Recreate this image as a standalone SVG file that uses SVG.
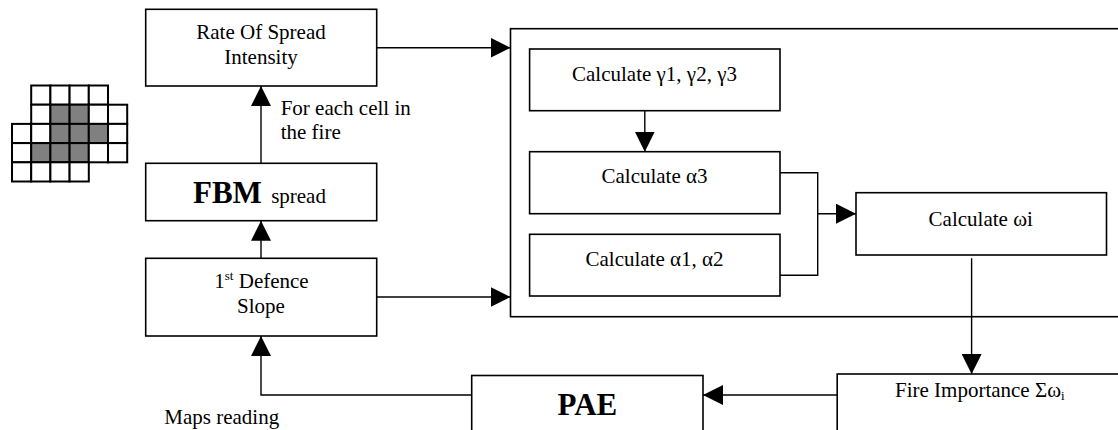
<svg xmlns="http://www.w3.org/2000/svg" width="1118" height="430" viewBox="0 0 1118 430">
<style>
.box{fill:#fff;stroke:#000;stroke-width:1.6}
.ln{fill:none;stroke:#000;stroke-width:1.4}
.t{font-family:"Liberation Serif","Times New Roman",serif;font-size:21px;fill:#000}
.c{text-anchor:middle}
.b{font-weight:bold}
.big{font-size:31px}
.cw{fill:#fff;stroke:#000;stroke-width:2}
.cg{fill:#808080;stroke:#000;stroke-width:2}
</style>
<defs>
<marker id="ah" markerUnits="userSpaceOnUse" markerWidth="20" markerHeight="20" refX="20" refY="10" orient="auto" viewBox="0 0 20 20">
<path d="M0,0 L20,10 L0,20 Z" fill="#000"/>
</marker>
</defs>
<rect width="1118" height="430" fill="#fff"/>

<g id="grid">
<rect class="cw" x="31.2" y="85.5" width="19.2" height="19.2"/>
<rect class="cw" x="50.4" y="85.5" width="19.2" height="19.2"/>
<rect class="cw" x="69.6" y="85.5" width="19.2" height="19.2"/>
<rect class="cw" x="88.8" y="85.5" width="19.2" height="19.2"/>
<rect class="cw" x="31.2" y="104.7" width="19.2" height="19.2"/>
<rect class="cg" x="50.4" y="104.7" width="19.2" height="19.2"/>
<rect class="cg" x="69.6" y="104.7" width="19.2" height="19.2"/>
<rect class="cw" x="88.8" y="104.7" width="19.2" height="19.2"/>
<rect class="cw" x="108" y="104.7" width="19.2" height="19.2"/>
<rect class="cw" x="12" y="123.9" width="19.2" height="19.2"/>
<rect class="cw" x="31.2" y="123.9" width="19.2" height="19.2"/>
<rect class="cg" x="50.4" y="123.9" width="19.2" height="19.2"/>
<rect class="cg" x="69.6" y="123.9" width="19.2" height="19.2"/>
<rect class="cg" x="88.8" y="123.9" width="19.2" height="19.2"/>
<rect class="cw" x="108" y="123.9" width="19.2" height="19.2"/>
<rect class="cw" x="12" y="143.1" width="19.2" height="19.2"/>
<rect class="cg" x="31.2" y="143.1" width="19.2" height="19.2"/>
<rect class="cg" x="50.4" y="143.1" width="19.2" height="19.2"/>
<rect class="cg" x="69.6" y="143.1" width="19.2" height="19.2"/>
<rect class="cw" x="88.8" y="143.1" width="19.2" height="19.2"/>
<rect class="cw" x="108" y="143.1" width="19.2" height="19.2"/>
<rect class="cw" x="12" y="162.3" width="19.2" height="19.2"/>
<rect class="cw" x="31.2" y="162.3" width="19.2" height="19.2"/>
<rect class="cw" x="50.4" y="162.3" width="19.2" height="19.2"/>
<rect class="cw" x="69.6" y="162.3" width="19.2" height="19.2"/>
</g>

<g id="container">
<rect class="box" x="510.5" y="28.7" width="700" height="288"/>
</g>

<g id="rate">
<rect class="box" x="145.7" y="9.3" width="231" height="76.7"/>
<text class="t c" x="261" y="39">Rate Of Spread</text>
<text class="t c" x="261" y="64">Intensity</text>
</g>

<g id="fbm">
<rect class="box" x="145.7" y="163.3" width="231" height="57.4"/>
<text class="t" x="193" y="203"><tspan class="b big">FBM</tspan><tspan dx="4"> spread</tspan></text>
</g>

<g id="defence">
<rect class="box" x="145.7" y="258.3" width="231" height="77.7"/>
<text class="t c" x="261.5" y="288.3">1<tspan font-size="13" dy="-8">st</tspan><tspan dy="8"> Defence</tspan></text>
<text class="t c" x="261" y="313.3">Slope</text>
</g>

<g id="gamma">
<rect class="box" x="529.6" y="49" width="250.4" height="61.7"/>
<text class="t c" x="654.5" y="81">Calculate γ1, γ2, γ3</text>
</g>

<g id="alpha3">
<rect class="box" x="529.6" y="151.7" width="250.4" height="62"/>
<text class="t c" x="654.5" y="183.3">Calculate α3</text>
</g>

<g id="alpha12">
<rect class="box" x="529.6" y="234.3" width="250.4" height="61.7"/>
<text class="t c" x="654.5" y="265.7">Calculate α1, α2</text>
</g>

<g id="omega">
<rect class="box" x="856" y="192.7" width="250.5" height="62.3"/>
<text class="t c" x="980.7" y="226">Calculate ωi</text>
</g>

<g id="fire">
<rect class="box" x="837.2" y="374" width="320" height="100"/>
<text class="t" x="895" y="397">Fire Importance Σω<tspan font-size="13" dy="3">i</tspan></text>
</g>

<g id="pae">
<rect class="box" x="471.7" y="375.5" width="231.3" height="100"/>
<text class="t c b big" x="587.4" y="415">PAE</text>
</g>

<g id="labels">
<text class="t" x="280.7" y="115">For each cell in</text>
<text class="t" x="280.7" y="139.3">the fire</text>
<text class="t" x="164.3" y="424">Maps reading</text>
</g>

<g id="connectors">
<line class="ln" x1="376.7" y1="47.7" x2="510.5" y2="47.7" marker-end="url(#ah)"/>
<line class="ln" x1="376.7" y1="297" x2="510.5" y2="297" marker-end="url(#ah)"/>
<line class="ln" x1="261" y1="163.3" x2="261" y2="86" marker-end="url(#ah)"/>
<line class="ln" x1="261" y1="258.3" x2="261" y2="220.7" marker-end="url(#ah)"/>
<line class="ln" x1="644.8" y1="110.7" x2="644.8" y2="151.7" marker-end="url(#ah)"/>
<polyline class="ln" points="780,172.7 817.7,172.7 817.7,275.3 780,275.3"/>
<line class="ln" x1="817.7" y1="213.7" x2="856" y2="213.7" marker-end="url(#ah)"/>
<line class="ln" x1="971.6" y1="258.3" x2="971.6" y2="374" marker-end="url(#ah)"/>
<line class="ln" x1="837.2" y1="395" x2="703" y2="395" marker-end="url(#ah)"/>
<polyline class="ln" points="471.7,395 261,395 261,336" marker-end="url(#ah)"/>
</g>
</svg>
